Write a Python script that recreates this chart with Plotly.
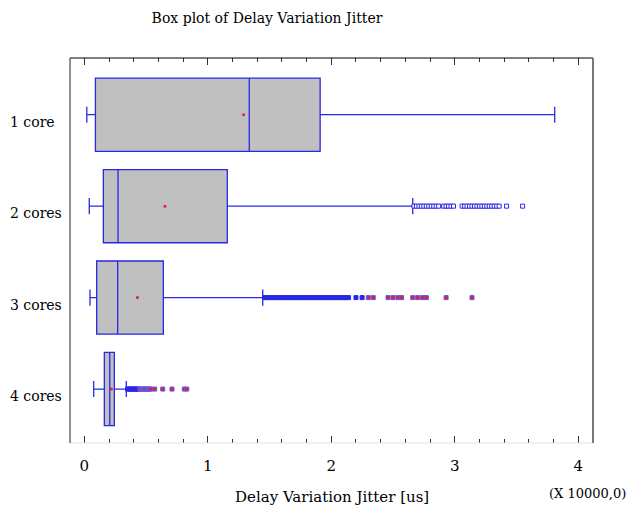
import plotly.graph_objects as go

# ---- data ----
categories = ["1 core", "2 cores", "3 cores", "4 cores"]
lower_fence = [0.02, 0.04, 0.046, 0.076]
q1_vals = [0.09, 0.154, 0.10, 0.162]
median_vals = [1.336, 0.273, 0.27, 0.206]
q3_vals = [1.91, 1.158, 0.64, 0.243]
upper_fence = [3.81, 2.66, 1.445, 0.34]
mean_vals = [1.29, 0.653, 0.43, 0.22]

out2_vals = [2.67, 2.69, 2.71, 2.73, 2.75, 2.77, 2.79, 2.81, 2.83, 2.85, 2.87,
             2.91, 2.93, 2.95, 2.97, 2.99,
             3.06, 3.08, 3.10, 3.12, 3.14, 3.16, 3.18, 3.20, 3.22, 3.24, 3.26,
             3.28, 3.30, 3.32, 3.34, 3.36, 3.42, 3.55]
out3_vals = [1.46, 1.48, 1.50, 1.52, 1.54, 1.56, 1.58, 1.60, 1.62, 1.64, 1.66,
             1.68, 1.70, 1.72, 1.74, 1.76, 1.78, 1.80, 1.82, 1.84, 1.86, 1.88,
             1.90, 1.92, 1.94, 1.96, 1.98, 2.00, 2.02, 2.04, 2.06, 2.08, 2.10,
             2.12, 2.14, 2.20, 2.25]
out3_red = [2.30, 2.34, 2.46, 2.50, 2.54, 2.57, 2.66, 2.70, 2.74, 2.77, 2.93, 3.14]
out4_vals = [0.35, 0.36, 0.37, 0.38, 0.39, 0.40, 0.41, 0.42, 0.43, 0.44]
out4_red = [0.45, 0.46, 0.47, 0.48, 0.49, 0.50, 0.51, 0.52, 0.53, 0.54,
            0.57, 0.635, 0.71, 0.81, 0.83]

x_tickvals = [0, 1, 2, 3, 4]
x_ticktext = ["0", "1", "2", "3", "4"]
title_text = "Box plot of Delay Variation Jitter"
x_title = "Delay Variation Jitter [us]"
x_scale_note = "(X 10000,0)"

# ---- style ----
BLUE = "rgb(40,40,230)"
RED = "rgb(230,30,50)"
GRAY = "rgb(192,192,192)"
FONT = "DejaVu Serif"

# page body has an 8px margin; compensate so the figure lands at the same spot
W, H = 627, 502

fig = go.Figure()
fig.add_trace(go.Box(
    y=categories, q1=q1_vals, median=median_vals, q3=q3_vals,
    lowerfence=lower_fence, upperfence=upper_fence,
    orientation="h", boxpoints=False, width=0.8, whiskerwidth=0.22,
    fillcolor=GRAY, line=dict(color=BLUE, width=1.3), showlegend=False,
    hoverinfo="skip",
))

def add_outliers(vals, cat, fill, line_col):
    fig.add_trace(go.Scatter(
        x=vals, y=[cat] * len(vals), mode="markers",
        marker=dict(symbol="square", size=4, color=fill,
                    line=dict(color=line_col, width=1)),
        showlegend=False, hoverinfo="skip",
    ))

add_outliers(out2_vals, categories[1], "white", BLUE)
add_outliers(out3_vals, categories[2], BLUE, BLUE)
add_outliers(out3_red, categories[2], RED, "rgb(90,90,240)")
add_outliers(out4_vals, categories[3], BLUE, BLUE)
add_outliers(out4_red, categories[3], RED, "rgb(90,90,240)")

fig.add_trace(go.Scatter(
    x=mean_vals, y=categories, mode="markers",
    marker=dict(symbol="circle", size=3, color=RED),
    showlegend=False, hoverinfo="skip",
))

annotations = []
for c in categories:
    annotations.append(dict(
        x=-0.1186, xref="paper", y=c, yref="y", yshift=-7,
        text=c, showarrow=False, xanchor="left", yanchor="middle",
        font=dict(family=FONT, size=14, color="black"),
    ))
annotations.append(dict(
    x=0.501, xref="paper", y=-0.140, yref="paper", text=x_title,
    showarrow=False, xanchor="center", yanchor="middle",
    font=dict(family=FONT, size=15, color="black"),
))
annotations.append(dict(
    x=0.99, xref="paper", y=-0.130, yref="paper", text=x_scale_note,
    showarrow=False, xanchor="center", yanchor="middle",
    font=dict(family=FONT, size=13, color="black"),
))

shapes = [
    dict(type="line", xref="paper", yref="paper", x0=0, x1=1, y0=1, y1=1,
         line=dict(color="black", width=1)),
    dict(type="line", xref="paper", yref="paper", x0=0, x1=1, y0=0, y1=0,
         line=dict(color="rgb(225,225,225)", width=1)),
    dict(type="line", xref="paper", yref="paper", x0=0, x1=0, y0=0, y1=1,
         line=dict(color="rgb(70,70,70)", width=1.2)),
    dict(type="line", xref="paper", yref="paper", x0=1, x1=1, y0=0, y1=1,
         line=dict(color="rgb(120,120,120)", width=2)),
]

fig.update_layout(
    width=W, height=H,
    margin=dict(l=62, r=42, t=50, b=67),
    paper_bgcolor="white", plot_bgcolor="white",
    title=dict(text=title_text, x=(267 - 8) / W, xref="container", xanchor="center",
               y=1 - (18 - 8) / H, yref="container", yanchor="middle",
               font=dict(family=FONT, size=14, color="black")),
    xaxis=dict(range=[-0.116, 4.12], tickvals=x_tickvals, ticktext=x_ticktext,
               ticks="inside", ticklen=7, tickwidth=1.2, tickcolor="rgb(50,50,50)",
               mirror="allticks", showline=False, showgrid=False, zeroline=False,
               minor=dict(dtick=0.2, tick0=0, ticks="inside", ticklen=4,
                          tickcolor="rgb(50,50,50)", showgrid=False),
               tickfont=dict(family=FONT, size=15, color="black"),
               ticklabelstandoff=12),
    yaxis=dict(type="category", categoryarray=categories, categoryorder="array",
               range=[3.59, -0.62], showticklabels=False, ticks="",
               showgrid=False, zeroline=False, showline=False),
    annotations=annotations, shapes=shapes,
)

fig.write_html("out.html")
